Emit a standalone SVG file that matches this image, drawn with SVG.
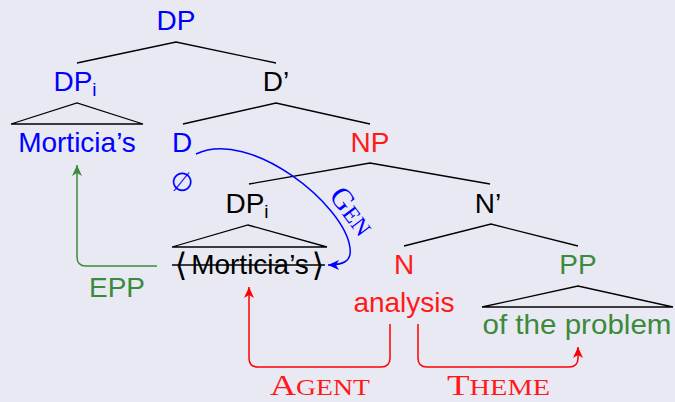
<svg xmlns="http://www.w3.org/2000/svg" width="675" height="402" viewBox="0 0 675 402">
  <style>
    .t { font-family: "Liberation Sans", "DejaVu Sans", sans-serif; font-size: 28px; text-anchor: middle; }
    .sub { font-size: 19px; }
    .sc { font-family: "Liberation Serif", "DejaVu Serif", serif; }
    .ang { font-family: "DejaVu Sans", sans-serif; font-size: 32px; text-anchor: middle; }
    .blk { fill: #000; }
    .blu { fill: #0000ff; }
    .red { fill: #ff1a1a; }
    .grn { fill: #3c8a3c; }
    .br { stroke: #000; stroke-width: 1.3; fill: none; }
    .arr { fill: none; stroke-width: 1.5; }
  </style>
  <defs>
    <marker id="hd-g" markerUnits="userSpaceOnUse" markerWidth="14" markerHeight="12" refX="0" refY="0" viewBox="-12 -6 14 12" orient="auto">
      <path d="M0,0 L-11,-5 L-8,0 L-11,5 Z" fill="#3c8a3c"/>
    </marker>
    <marker id="hd-r" markerUnits="userSpaceOnUse" markerWidth="14" markerHeight="12" refX="0" refY="0" viewBox="-12 -6 14 12" orient="auto">
      <path d="M0,0 L-11,-5 L-8,0 L-11,5 Z" fill="#ff0000"/>
    </marker>
    <marker id="hd-b" markerUnits="userSpaceOnUse" markerWidth="14" markerHeight="12" refX="0" refY="0" viewBox="-12 -6 14 12" orient="auto">
      <path d="M0,0 L-11,-5 L-8,0 L-11,5 Z" fill="#0000ff"/>
    </marker>
  </defs>

  <rect width="675" height="402" fill="#e9e9f3"/>

  <!-- tree branches -->
  <g id="branches" class="br">
    <path d="M77,63 L176,42 L276,63"/>
    <path d="M11,124 L77,103 L143,124 Z"/>
    <path d="M183,124 L276,103 L370,124"/>
    <path d="M249,184 L370,163 L490,184"/>
    <path d="M172,247 L248,225 L327,247 Z"/>
    <path d="M404,246 L491,224 L578,246"/>
    <path d="M482,307 L578,286 L673,307 Z"/>
  </g>

  <!-- nodes -->
  <g id="n-dp"><text class="t blu" x="176" y="30">DP</text></g>
  <g id="n-dpi-spec"><text class="t blu" x="75" y="91">DP<tspan class="sub" dy="5">i</tspan></text></g>
  <g id="n-dbar"><text class="t blk" x="276" y="91">D’</text></g>
  <g id="n-morticia"><text class="t blu" x="77" y="152">Morticia’s</text></g>
  <g id="n-d">
    <text class="t blu" x="182" y="152">D</text>
    <text class="blu" x="182" y="191" style="font-family:'DejaVu Sans',sans-serif;font-size:26px;text-anchor:middle;font-style:italic">∅</text>
  </g>
  <g id="n-np"><text class="t red" x="370" y="152">NP</text></g>
  <g id="n-dpi-trace"><text class="t blk" x="247" y="213">DP<tspan class="sub" dy="5">i</tspan></text></g>
  <g id="n-trace">
    <text class="ang blk" x="181" y="276">⟨</text>
    <text class="t blk" x="250" y="274">Morticia’s</text>
    <text class="ang blk" x="318" y="276">⟩</text>
    <line x1="172" y1="265" x2="325" y2="265" stroke="#000" stroke-width="1.4"/>
  </g>
  <g id="n-nbar"><text class="t blk" x="488" y="213">N’</text></g>
  <g id="n-n">
    <text class="t red" x="404" y="274">N</text>
    <text class="t red" x="404" y="312">analysis</text>
  </g>
  <g id="n-pp">
    <text class="t grn" x="578" y="274">PP</text>
    <text class="t grn" x="577" y="334" textLength="189" lengthAdjust="spacingAndGlyphs">of the problem</text>
  </g>

  <!-- movement and role connectors -->
  <g id="connectors">
    <path class="arr" stroke="#3c8a3c" d="M157,266 H86 Q77,266 77,257 V165" marker-end="url(#hd-g)"/>
    <path class="arr" stroke="#ff0000" d="M390,324 V358 Q390,367 381,367 H258 Q249,367 249,358 V287" marker-end="url(#hd-r)"/>
    <path class="arr" stroke="#ff0000" d="M418,324 V358 Q418,367 427,367 H569 Q578,367 578,358 V347" marker-end="url(#hd-r)"/>
    <path class="arr" stroke="#0000ff" d="M196,154 C250,128 345,205 350,248 C352,262 342,265 328,265" marker-end="url(#hd-b)"/>
    <text class="t grn" x="117" y="297">EPP</text>
    <text class="sc red" x="270" y="395" font-size="30" textLength="100" lengthAdjust="spacingAndGlyphs">A<tspan font-size="23">GENT</tspan></text>
    <text class="sc red" x="447" y="395" font-size="30" textLength="103" lengthAdjust="spacingAndGlyphs">T<tspan font-size="23">HEME</tspan></text>
    <text class="sc blu" transform="translate(344,217) rotate(53)" font-size="30" text-anchor="middle">G<tspan font-size="23">EN</tspan></text>
  </g>
</svg>
